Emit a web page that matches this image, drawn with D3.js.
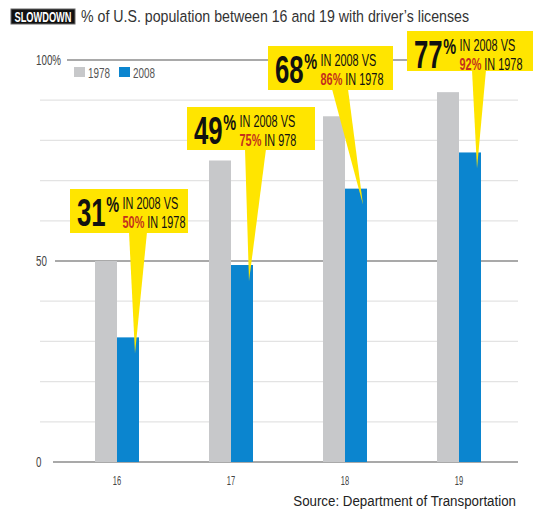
<!DOCTYPE html>
<html><head><meta charset="utf-8">
<script src="https://cdn.jsdelivr.net/npm/d3@7"></script>
<style>body{margin:0;background:#fff}svg{display:block}</style>
</head><body>
<svg id="c" width="533" height="510"></svg>
<script>
// ---- data ----
const categories = ["16", "17", "18", "19"];
const series = ["1978", "2008"];
const values1978 = [50, 75, 86, 92];
const values2008 = [31, 49, 68, 77];
const yTickValues = [0, 50, 100];
const yTickLabels = ["0", "50", "100%"];
const calloutLine1 = ["IN 2008 VS", "IN 2008 VS", "IN 2008 VS", "IN 2008 VS"];
const calloutTail = ["IN 1978", "IN 978", "IN 1978", "IN 1978"];
const titleTag = "SLOWDOWN";
const titleText = "% of U.S. population between 16 and 19 with driver\u2019s licenses";
const sourceText = "Source: Department of Transportation";

// ---- layout (positions only) ----
const boxLayout = [
  {x: 70, y: 189, w: 118, h: 44, b0: 129, b1: 147},
  {x: 187, y: 107, w: 128, h: 43, b0: 245, b1: 266},
  {x: 268, y: 46, w: 125, h: 44, b0: 332, b1: 348},
  {x: 407, y: 31, w: 126, h: 40, b0: 472, b1: 486}
];

const COL = {"1978": "#c7c8ca", "2008": "#0b85cf"};
const YEL = "#ffe500", RED = "#c4301c";
const FONT = "'Liberation Sans', Arial, sans-serif";

const svg = d3.select("#c");
const y = d3.scaleLinear().domain([0, 100]).range([462, 60]);
const x0 = d3.scaleBand().domain(categories).range([60, 516]).padding(0);
const x1 = d3.scaleBand().domain(series).range([-22, 22]);
const cx = c => x0(c) + x0.bandwidth() / 2;

// condensed text helper
function ctext(g, x, yy, txt, size, sx, opts = {}) {
  return g.append("text")
    .attr("transform", `translate(${x},${yy}) scale(${sx},1)`)
    .attr("font-family", opts.family || FONT).attr("font-size", size)
    .attr("font-weight", opts.weight || "normal")
    .attr("fill", opts.fill || "#333")
    .attr("text-anchor", opts.anchor || "start")
    .text(txt);
}

// ---- gridlines ----
const grid = svg.append("g");
d3.range(10, 100, 10).filter(v => v !== 50).forEach(v => {
  grid.append("line").attr("x1", 40).attr("x2", 518)
    .attr("y1", y(v)).attr("y2", y(v))
    .attr("stroke", "#e3e3e3").attr("stroke-width", 1.2);
});
const darkStart = {0: 53, 50: 55, 100: 67};
yTickValues.forEach(v => {
  grid.append("line").attr("x1", darkStart[v]).attr("x2", 518)
    .attr("y1", y(v)).attr("y2", y(v))
    .attr("stroke", "#8c8c8c").attr("stroke-width", 1.5);
});
// y tick labels (left aligned)
yTickValues.forEach((v, i) => {
  ctext(svg, 36, y(v) + 5, yTickLabels[i], 14, 0.7, {fill: "#444"});
});

// ---- bars ----
const rows = categories.map((c, i) => ({c, vals: [values1978[i], values2008[i]]}));
const grp = svg.append("g").selectAll("g").data(rows).join("g")
  .attr("transform", d => `translate(${cx(d.c)},0)`);
grp.selectAll("rect").data(d => d.vals.map((v, j) => ({s: series[j], v})))
  .join("rect")
  .attr("x", d => x1(d.s)).attr("width", x1.bandwidth())
  .attr("y", d => y(d.v)).attr("height", d => y(0) - y(d.v))
  .attr("fill", d => COL[d.s]);

// category labels
categories.forEach(c => {
  ctext(svg, cx(c), 484.5, c, 12.5, 0.6, {fill: "#444", anchor: "middle"});
});

// ---- legend ----
const legX = [74, 119];
series.forEach((s, i) => {
  svg.append("rect").attr("x", legX[i]).attr("y", 67).attr("width", 11).attr("height", 10).attr("fill", COL[s]);
  ctext(svg, legX[i] + 14, 78, s, 15, 0.66, {fill: "#555"});
});

// ---- callouts ----
categories.forEach((c, i) => {
  const L = boxLayout[i];
  const g = svg.append("g");
  const tipX = cx(c) + x1("2008") + x1.bandwidth() - 4;
  const tipY = y(values2008[i]) + 16;
  g.append("path")
    .attr("d", `M${L.b0},${L.y + L.h - 1}L${L.b1},${L.y + L.h - 1}L${tipX},${tipY}Z`)
    .attr("fill", YEL);
  g.append("rect").attr("x", L.x).attr("y", L.y).attr("width", L.w).attr("height", L.h).attr("fill", YEL);

  const sBig = 0.66;
  const big = ctext(g, L.x + 7, L.y + 36.5, "", 39, sBig, {fill: "#111", weight: "bold"});
  big.append("tspan").text(values2008[i]);
  big.append("tspan").attr("font-size", 22).attr("dy", -14).attr("dx", 1).text("%");
  const bw = big.node().getBBox().width * sBig;
  const lx = L.x + 7 + bw + 3;
  ctext(g, lx, L.y + 20, calloutLine1[i], 16.5, 0.66, {fill: "#111"});
  const l2 = ctext(g, lx, L.y + 39, "", 16.5, 0.66, {fill: "#111"});
  l2.append("tspan").attr("fill", RED).attr("font-weight", "bold").text(values1978[i] + "%");
  l2.append("tspan").text(" " + calloutTail[i]);
});

// ---- title ----
svg.append("rect").attr("x", 11).attr("y", 9).attr("width", 64).attr("height", 15)
  .attr("fill", "#111").attr("stroke", "#666").attr("stroke-width", 1);
ctext(svg, 43, 22, titleTag, 14, 0.66, {fill: "#fff", weight: "bold", anchor: "middle"});
ctext(svg, 81, 22, titleText, 16.5, 0.86, {fill: "#333"});

// ---- source ----
ctext(svg, 516, 506, sourceText, 15.5, 0.86, {fill: "#222", anchor: "end"});
</script>
</body></html>
